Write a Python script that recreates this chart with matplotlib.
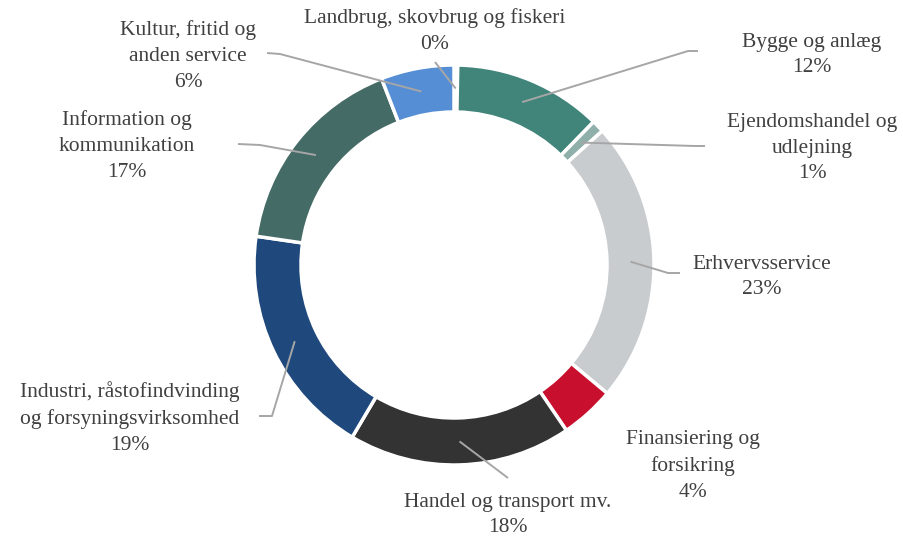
import numpy as np
import matplotlib.pyplot as plt

# data (clockwise from 12 o'clock)
sectors = ["Landbrug, skovbrug og fiskeri", "Bygge og anlæg", "Ejendomshandel og\nudlejning",
           "Erhvervsservice", "Finansiering og\nforsikring", "Handel og transport mv.",
           "Industri, råstofindvinding\nog forsyningsvirksomhed", "Information og\nkommunikation",
           "Kultur, fritid og\nanden service"]
shares = [0.3, 12.0, 1.0, 22.8, 4.4, 18.0, 18.8, 16.8, 5.9]
colors = ["#F2F2F2", "#41847A", "#8FB0AA", "#C9CCCF", "#C8102E", "#333333",
          "#1F497D", "#456B66", "#558ED5"]

W, H = 904, 537
CX, CY, R, RW = 454, 265, 200, 47

# label centre (pixel coords) and leader line bends
label_pos = [(435, 31), (812, 55), (812, 148), (762, 277), (693, 466),
             (508, 515), (130, 418), (127, 146), (188, 56)]
leader_pts = [[(435, 62)], [(688, 51), (698, 51)], [(695, 146), (705, 146)],
              [(668, 273), (680, 273)], None, [(508, 478)],
              [(272, 416), (259, 416)], [(260, 145), (238, 144)],
              [(280, 54), (267, 53)]]


def py(y):
    # pixel y (from top) -> data y
    return H - y


fig = plt.figure(figsize=(W / 100, H / 100), dpi=100)
ax = fig.add_axes([0, 0, 1, 1])

ax.pie(shares, colors=colors, startangle=90, counterclock=False,
       center=(CX, py(CY)), radius=R,
       wedgeprops=dict(width=RW, edgecolor="white", linewidth=2.5))

# pie() resets the limits, so set them afterwards
ax.set_xlim(0, W)
ax.set_ylim(0, H)
ax.set_aspect("equal")
ax.axis("off")

total = sum(shares)
cum = np.cumsum([0] + shares)
for i, name in enumerate(sectors):
    mid = (cum[i] + shares[i] / 2) / total * 2 * np.pi
    r_mid = R - RW / 2
    sx = CX + r_mid * np.sin(mid)
    sy = CY - r_mid * np.cos(mid)
    if leader_pts[i] is not None:
        xs = [sx] + [p[0] for p in leader_pts[i]]
        ys = [py(sy)] + [py(p[1]) for p in leader_pts[i]]
        ax.plot(xs, ys, color="#A6A6A6", lw=1.4, solid_capstyle="butt")
    lx, ly = label_pos[i]
    ax.text(lx, py(ly), f"{name}\n{shares[i]:.0f}%", ha="center", va="center",
            multialignment="center", fontsize=15.5, family="Liberation Serif",
            color="#404040", linespacing=1.48)

fig.savefig("out.png", dpi=100)
